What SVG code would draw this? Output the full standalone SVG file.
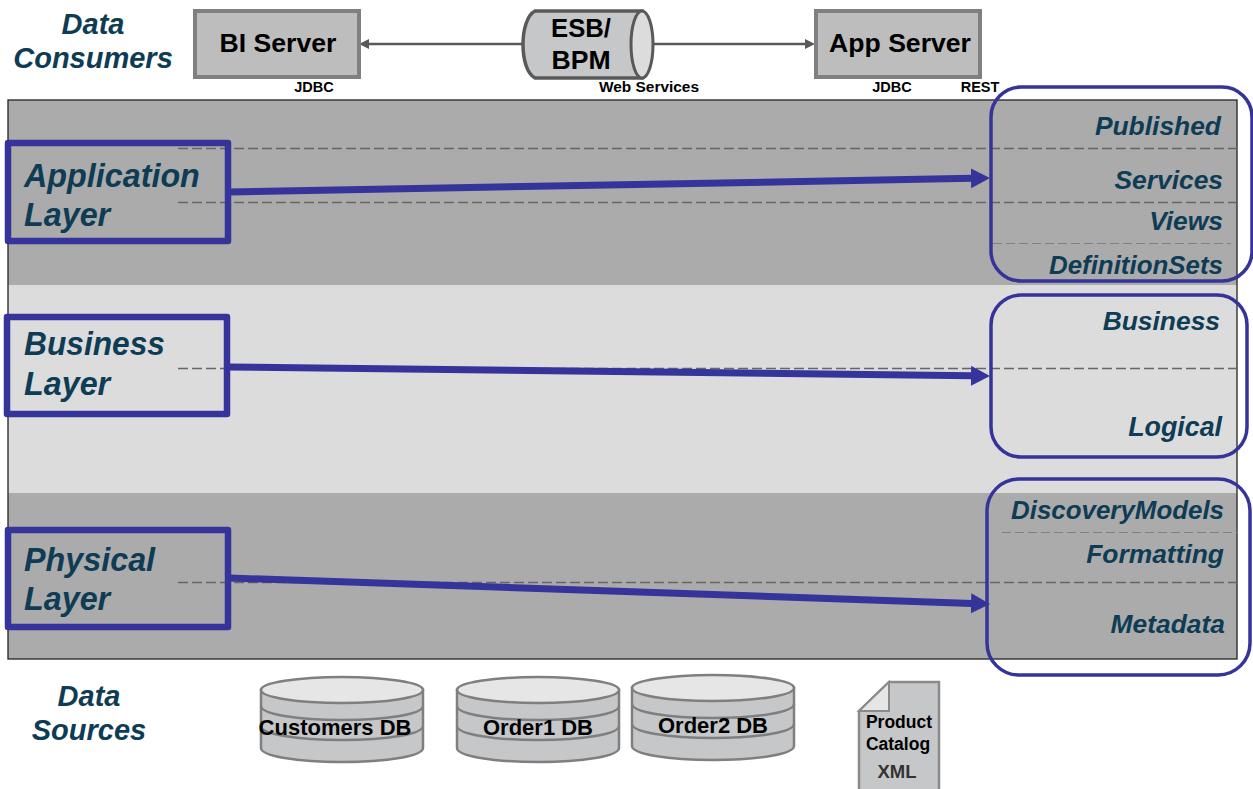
<svg xmlns="http://www.w3.org/2000/svg" width="1253" height="789" viewBox="0 0 1253 789">
<style>
text{font-family:"Liberation Sans",Arial,sans-serif;font-weight:bold}
.h{font-style:italic;fill:#0f3c55;font-size:29px;text-anchor:middle}
.l{font-style:italic;fill:#0f3c55;font-size:32.3px}
.r{font-style:italic;fill:#0f3c55;font-size:26.4px;text-anchor:end}
.s{fill:#000;font-size:14.5px;text-anchor:middle}
.srv{fill:#000;font-size:26.6px;text-anchor:middle}
.db{fill:#000;font-size:22px;text-anchor:middle}
.box{fill:#bdbdbd;stroke:#808080;stroke-width:4}
.layer{fill:none;stroke:#35349a;stroke-width:6.5;stroke-linejoin:round}
.round{fill:none;stroke:#35349a;stroke-width:3.500}
.dash{stroke:#666;stroke-width:1.500;stroke-dasharray:10 4;fill:none}
.thin{stroke:#808080;stroke-width:1.200;stroke-dasharray:9 4;fill:none}
.cylb{fill:#c6c7c9;stroke:#7f7f7f;stroke-width:2.500}
.cylt{fill:#e6e6e6;stroke:#7f7f7f;stroke-width:2.500}
.cyll{fill:none;stroke:#7f7f7f;stroke-width:2.500}
.thick{stroke:#35349a;stroke-width:7;fill:none}
.gc{stroke:#595959;stroke-width:2.500;fill:none}
</style>
<defs>
<marker id="big" markerUnits="userSpaceOnUse" markerWidth="20" markerHeight="22" refX="1" refY="10" orient="auto"><path d="M0 0L19 10L0 20Z" fill="#35349a"/></marker>
<marker id="small" markerUnits="userSpaceOnUse" markerWidth="12" markerHeight="12" refX="2" refY="5" orient="auto"><path d="M0 0L10 5L0 10Z" fill="#595959"/></marker>
<g id="cyl">
<path class="cylb" d="M0 13V71C0 79 36 85 81 85S162 79 162 71V13Z"/>
<path class="cyll" d="M0 29C0 37 36 43 81 43S162 37 162 29M0 49C0 57 36 63 81 63S162 57 162 49"/>
<ellipse class="cylt" cx="81" cy="13" rx="81" ry="13"/>
</g>
</defs>
<rect width="1253" height="789" fill="#fff"/>
<g id="bands">
<rect x="8" y="100" width="1229" height="185" fill="#ababab"/>
<rect x="8" y="285" width="1229" height="208" fill="#dcdcdc"/>
<rect x="8" y="493" width="1229" height="166" fill="#ababab"/>
<rect x="8" y="100" width="1229" height="559" fill="none" stroke="#222" stroke-width="1.300"/>
<path class="dash" d="M178 148.500H1237M178 202.500H1237M178 368.500H1237M178 582.500H1237"/>
<path class="thin" d="M993 243.500H1231M1002 532.500H1238"/>
</g>
<g id="connectors">
<path class="gc" marker-end="url(#small)" d="M522 44H367"/>
<path class="gc" marker-end="url(#small)" d="M654 44H807"/>
<path class="thick" marker-end="url(#big)" d="M230 192L972 178.300"/>
<path class="thick" marker-end="url(#big)" d="M228 367L972 375.800"/>
<path class="thick" marker-end="url(#big)" d="M230 578L972 603.400"/>
</g>
<g id="data-consumers"><text class="h" x="93" y="34">Data</text><text class="h" x="93" y="68">Consumers</text></g>
<g id="bi-server"><rect class="box" x="195" y="11" width="164" height="66"/><text class="srv" x="278" y="52">BI Server</text><text class="s" x="314" y="92">JDBC</text></g>
<g id="esb">
<path fill="#c6c7c9" stroke="#595959" stroke-width="3.500" d="M535 11H642V78H535C519 70 519 19 535 11Z"/>
<ellipse cx="642" cy="44.500" rx="11" ry="33.500" fill="#dcdcdc" stroke="#595959" stroke-width="3"/>
<text class="srv" x="581" y="37" textLength="60" lengthAdjust="spacingAndGlyphs">ESB/</text><text class="srv" x="581" y="69">BPM</text>
<text class="s" x="649" y="92" textLength="100" lengthAdjust="spacingAndGlyphs">Web Services</text>
</g>
<g id="app-server"><rect class="box" x="816" y="11" width="164" height="66"/><text class="srv" x="900" y="52">App Server</text><text class="s" x="892" y="92">JDBC</text><text class="s" x="980" y="92">REST</text></g>
<g id="application-layer"><rect class="layer" x="8" y="143" width="220" height="98"/><text class="l" x="24" y="187">Application</text><text class="l" x="24" y="226">Layer</text></g>
<g id="business-layer"><rect class="layer" x="7" y="317" width="220" height="97"/><text class="l" x="24" y="355" textLength="141" lengthAdjust="spacingAndGlyphs">Business</text><text class="l" x="24" y="395">Layer</text></g>
<g id="physical-layer"><rect class="layer" x="8" y="530" width="220" height="97"/><text class="l" x="24" y="571">Physical</text><text class="l" x="24" y="610">Layer</text></g>
<g id="application-group"><rect class="round" x="991" y="87" width="261" height="194" rx="30"/>
<text class="r" x="1221" y="135">Published</text><text class="r" x="1223" y="189">Services</text><text class="r" x="1223" y="230">Views</text><text class="r" x="1223" y="274" font-size="26" style="font-size:25.900px">DefinitionSets</text></g>
<g id="business-group"><rect class="round" x="991" y="295" width="256" height="162" rx="30"/>
<text class="r" x="1220" y="330">Business</text><text class="r" x="1222" y="436" style="font-size:26.800px">Logical</text></g>
<g id="physical-group"><rect class="round" x="987" y="479" width="263" height="196" rx="32"/>
<text class="r" x="1224" y="519" style="font-size:25.900px">DiscoveryModels</text><text class="r" x="1224" y="563">Formatting</text><text class="r" x="1225" y="633">Metadata</text></g>
<g id="data-sources"><text class="h" x="89" y="706">Data</text><text class="h" x="89" y="740">Sources</text></g>
<g id="customers-db"><use href="#cyl" x="261" y="677"/><text class="db" x="335" y="735">Customers DB</text></g>
<g id="order1-db"><use href="#cyl" x="457" y="677"/><text class="db" x="538" y="735">Order1 DB</text></g>
<g id="order2-db"><use href="#cyl" x="632" y="675"/><text class="db" x="713" y="733">Order2 DB</text></g>
<g id="product-catalog">
<path d="M889 682H939V795H859V711Z" fill="#c6c7c9" stroke="#8a8a8a" stroke-width="2.500"/>
<path d="M889 682V711H859Z" fill="#e6e6e6" stroke="#8a8a8a" stroke-width="2"/>
<text x="899" y="728" text-anchor="middle" font-size="17.500">Product</text>
<text x="898" y="750" text-anchor="middle" font-size="17.500">Catalog</text>
<text x="897" y="778" text-anchor="middle" font-size="18.500" fill="#333">XML</text>
</g>
</svg>
